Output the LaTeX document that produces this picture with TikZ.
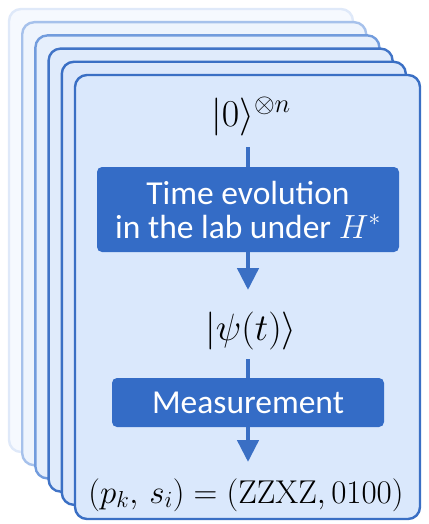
\RequirePackage{fix-cm}
\documentclass[tikz,border=0pt]{standalone}
\usepackage{fontspec}
\setsansfont{Carlito}
\usetikzlibrary{arrows.meta}
\definecolor{cardA}{HTML}{DFE9F9}\definecolor{fillA}{HTML}{F6F9FE}
\definecolor{cardB}{HTML}{A6C1EB}\definecolor{fillB}{HTML}{EEF4FD}
\definecolor{cardC}{HTML}{729CDD}\definecolor{fillC}{HTML}{E6EFFC}
\definecolor{cardD}{HTML}{4174C7}\definecolor{fillD}{HTML}{E0EBFB}
\definecolor{cardE}{HTML}{3A6FC4}\definecolor{fillE}{HTML}{DCE8FB}
\definecolor{cardF}{HTML}{3A6FC4}\definecolor{fillF}{HTML}{DAE8FC}
\definecolor{boxblue}{HTML}{346CC6}
\definecolor{arrowblue}{HTML}{3A6FC4}
\tikzset{
  card/.style={draw=#1, line width=2.4pt, rounded corners=12pt},
  bluebox/.style={fill=boxblue, rounded corners=5pt, text=white, align=center,
    inner sep=0pt, font=\sffamily\fontsize{33.5}{34}\selectfont},
  mathlabel/.style={inner sep=0pt, anchor=base, font=\fontsize{38}{44}\selectfont},
  stem/.style={draw=arrowblue, line width=4.6pt},
  flow/.style={stem, -{Triangle[width=21pt,length=22pt]}},
}
\begin{document}
\begin{tikzpicture}[x=1pt,y=-1pt]
\useasboundingbox (0,0) rectangle (428,524);
% stacked cards
\draw[card=cardA, fill=fillA] (9,9) rectangle (353,452);
\draw[card=cardB, fill=fillB] (22.2,22.2) rectangle (366.2,465.2);
\draw[card=cardC, fill=fillC] (35.4,35.4) rectangle (379.4,478.4);
\draw[card=cardD, fill=fillD] (48.6,48.6) rectangle (392.6,491.6);
\draw[card=cardE, fill=fillE] (61.8,61.8) rectangle (405.8,504.8);
\draw[card=cardF, fill=fillF] (75,75) rectangle (420,519);
% content
\node[mathlabel] (ket0) at (251,126) {$|0\rangle^{\otimes n}$};
\coordinate (s1) at (248,147);
\node[bluebox, minimum width=302pt, minimum height=85pt] (evo) at (248,209.5)
  {Time evolution\\in the lab under $H^{*}$};
\coordinate (t1) at (248,290);
\node[mathlabel] (psi) at (251,340) {$|\psi(t)\rangle$};
\coordinate (s2) at (248,359);
\node[bluebox, minimum width=272pt, minimum height=49pt] (meas) at (248,402.5)
  {Measurement};
\coordinate (t2) at (248,462);
\node[inner sep=0pt, anchor=base, font=\fontsize{33}{40}\selectfont] (res) at (246,503)
  {$(p_k,\, s_i) = (\mathrm{ZZXZ}, 0100)$};
% connectors
\draw[stem] (s1) -- (evo.north);
\draw[flow] (evo.south) -- (t1);
\draw[stem] (s2) -- (meas.north);
\draw[flow] (meas.south) -- (t2);
\end{tikzpicture}
\end{document}
